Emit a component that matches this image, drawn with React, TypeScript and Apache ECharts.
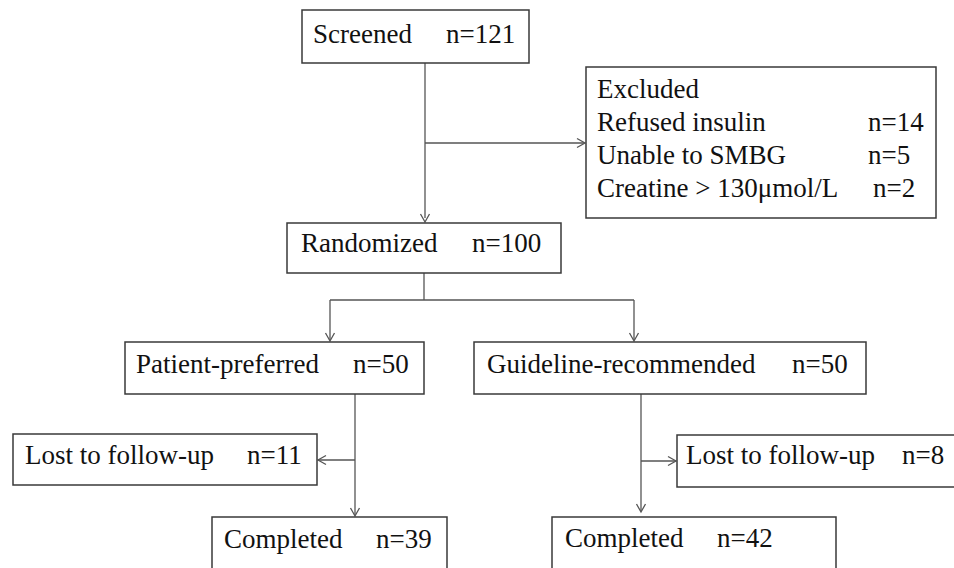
import React, { useEffect, useRef } from "react";
import * as echarts from "echarts";

// ---- data ----
const stageLabels = [
  "Screened",
  "Randomized",
  "Patient-preferred",
  "Guideline-recommended",
  "Lost to follow-up",
  "Lost to follow-up",
  "Completed",
  "Completed",
];
const stageCounts = [121, 100, 50, 50, 11, 8, 39, 42];
const exclusionTitle = "Excluded";
const exclusionReasons = ["Refused insulin", "Unable to SMBG", "Creatine > 130\u03bcmol/L"];
const exclusionCounts = [14, 5, 2];

// ---- layout (positions only) ----
const boxes = [
  { x: 302, y: 10, w: 227, h: 53, tx: 313, cx: 446, ty: 34 },
  { x: 287, y: 223, w: 274, h: 50, tx: 301, cx: 472, ty: 243 },
  { x: 125, y: 342, w: 299, h: 52, tx: 136, cx: 353, ty: 364 },
  { x: 474, y: 342, w: 392, h: 52, tx: 487, cx: 792, ty: 364 },
  { x: 13, y: 434, w: 304, h: 51, tx: 25, cx: 247, ty: 455 },
  { x: 677, y: 435, w: 290, h: 52, tx: 686, cx: 902, ty: 455 },
  { x: 212, y: 517, w: 235, h: 60, tx: 224, cx: 376, ty: 539 },
  { x: 552, y: 517, w: 284, h: 60, tx: 565, cx: 717, ty: 538 },
];
const exclBox = { x: 586, y: 67, w: 350, h: 151, tx: 597, ty: 89, dy: 33, cxs: [868, 868, 873] };

const FONT = '"Liberation Serif", "Times New Roman", serif';
const LINE = "#555";
const BORDER = "#3a3a3a";
const TEXT = "#111";

function seg(x1: number, y1: number, x2: number, y2: number) {
  return {
    type: "line",
    silent: true,
    shape: { x1, y1, x2, y2 },
    style: { stroke: LINE, lineWidth: 1.3 },
  };
}

function arrowHead(x: number, y: number, dir: "down" | "left" | "right") {
  const L = 8;
  const W = 4.5;
  let pts: number[][];
  if (dir === "down") pts = [[x - W, y - L], [x, y], [x + W, y - L]];
  else if (dir === "left") pts = [[x + L, y - W], [x, y], [x + L, y + W]];
  else pts = [[x - L, y - W], [x, y], [x - L, y + W]];
  return {
    type: "polyline",
    silent: true,
    shape: { points: pts },
    style: { stroke: LINE, lineWidth: 1.3, fill: null },
  };
}

function text(str: string, x: number, y: number) {
  return {
    type: "text",
    silent: true,
    x,
    y,
    style: {
      text: str,
      fontFamily: FONT,
      fontSize: 27,
      fill: TEXT,
      align: "left",
      verticalAlign: "middle",
    },
  };
}

function rect(x: number, y: number, w: number, h: number) {
  return {
    type: "rect",
    silent: true,
    shape: { x, y, width: w, height: h },
    style: { fill: "#fff", stroke: BORDER, lineWidth: 1.5 },
  };
}

export default function App() {
  const ref = useRef<HTMLDivElement>(null);

  useEffect(() => {
    if (!ref.current) return;
    const chart = echarts.init(ref.current, null, { renderer: "svg" });

    const elements: any[] = [];

    // connectors
    // Screened -> Randomized
    elements.push(seg(425, 63, 425, 218));
    elements.push(arrowHead(425, 222, "down"));
    // branch to Excluded
    elements.push(seg(425, 143, 584, 143));
    elements.push(arrowHead(585, 143, "right"));
    // Randomized -> split
    elements.push(seg(424, 273, 424, 300));
    elements.push(seg(330, 300, 634, 300));
    elements.push(seg(330, 300, 330, 340));
    elements.push(arrowHead(330, 341, "down"));
    elements.push(seg(634, 300, 634, 340));
    elements.push(arrowHead(634, 341, "down"));
    // left arm
    elements.push(seg(355, 394, 355, 515));
    elements.push(arrowHead(355, 516, "down"));
    elements.push(seg(318, 460, 355, 460));
    elements.push(arrowHead(318, 460, "left"));
    // right arm
    elements.push(seg(641, 394, 641, 511));
    elements.push(arrowHead(641, 512, "down"));
    elements.push(seg(641, 461, 676, 461));
    elements.push(arrowHead(676, 461, "right"));

    // boxes
    boxes.forEach((b, i) => {
      elements.push(rect(b.x, b.y, b.w, b.h));
      elements.push(text(stageLabels[i], b.tx, b.ty));
      elements.push(text("n=" + stageCounts[i], b.cx, b.ty));
    });

    // excluded box
    elements.push(rect(exclBox.x, exclBox.y, exclBox.w, exclBox.h));
    elements.push(text(exclusionTitle, exclBox.tx, exclBox.ty));
    exclusionReasons.forEach((r, i) => {
      const y = exclBox.ty + exclBox.dy * (i + 1);
      elements.push(text(r, exclBox.tx, y));
      elements.push(text("n=" + exclusionCounts[i], exclBox.cxs[i], y));
    });

    chart.setOption({
      animation: false,
      backgroundColor: "#ffffff",
      graphic: { elements },
    });

    return () => chart.dispose();
  }, []);

  return (
    <div
      ref={ref}
      style={{ position: "fixed", left: 0, top: 0, width: 954, height: 568 }}
    />
  );
}
